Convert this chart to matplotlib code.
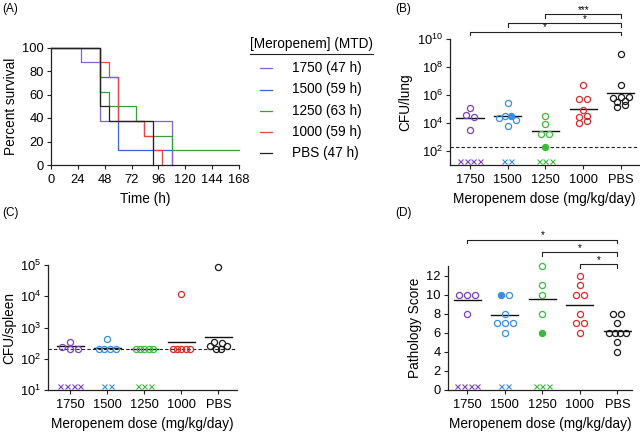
import numpy as np
import matplotlib
matplotlib.use("Agg")
import matplotlib.pyplot as plt
from matplotlib.lines import Line2D
from matplotlib.ticker import NullLocator, FuncFormatter

plt.rcParams["font.family"] = ["Liberation Sans", "DejaVu Sans"]
plt.rcParams["mathtext.fontset"] = "custom"
plt.rcParams["mathtext.rm"] = "Liberation Sans"
plt.rcParams["mathtext.it"] = "Liberation Sans"

# ---------------- data ----------------
groups = ["1750", "1500", "1250", "1000", "PBS"]
legend_labels = ["1750 (47 h)", "1500 (59 h)", "1250 (63 h)", "1000 (59 h)", "PBS (47 h)"]

# Kaplan-Meier steps (time h, percent survival)
surv_1750_t = [0, 27, 44, 108]
surv_1750_s = [100, 87.5, 37.5, 0]
surv_1500_t = [0, 44, 59.5, 108]
surv_1500_s = [100, 75, 12.5, 0]
surv_1250_t = [0, 44, 52, 76, 83.5, 108, 168]
surv_1250_s = [100, 62.5, 50, 37.5, 25, 12.5, 12.5]
surv_1000_t = [0, 44, 52, 59.5, 83.5, 91.5, 99.5]
surv_1000_s = [100, 87.5, 75, 37.5, 25, 12.5, 0]
surv_pbs_t = [0, 44, 52, 91.5]
surv_pbs_s = [100, 50, 37.5, 0]

# CFU/lung (listed left to right inside each row), filled = open/closed symbol
lung_vals = [
    [3.5e4, 2.7e4, 1.1e5, 3.4e3],
    [2.2e4, 3.0e4, 3.2e4, 1.7e4, 2.9e5, 5.8e3],
    [1.7e3, 1.7e3, 8.5e3, 3.4e4, 2.0e2],
    [1.0e4, 1.3e4, 2.7e4, 3.0e4, 9.1e4, 4.9e5, 4.9e5, 5.5e6],
    [6.5e5, 7.2e5, 7.2e5, 3.2e5, 3.5e5, 1.5e5, 1.8e5, 5.1e6, 8.5e8],
]
lung_filled = [
    [0, 0, 0, 0],
    [0, 0, 1, 0, 0, 0],
    [0, 0, 0, 0, 1],
    [0, 0, 0, 0, 0, 0, 0, 0],
    [0, 0, 0, 0, 0, 0, 0, 0, 0],
]
lung_mean = [2.45e4, 3.2e4, 2.7e3, 9.5e4, 1.4e6]

# CFU/spleen
spleen_vals = [
    [235, 200, 200, 340],
    [200, 200, 200, 200, 440],
    [200, 200, 200, 200, 200],
    [200, 200, 200, 200, 200, 12000],
    [355, 265, 205, 205, 265, 330, 87000],
]
spleen_mean = [250, 225, 200, 340, 510]

# Pathology score
path_vals = [
    [10, 10, 10, 8],
    [10, 10, 8, 7, 7, 7, 6],
    [13, 11, 10, 8, 6],
    [12, 11, 10, 10, 8, 7, 7, 6],
    [8, 8, 7, 6, 6, 6, 6, 5, 4],
]
path_filled = [
    [0, 0, 0, 0],
    [1, 0, 0, 0, 0, 0, 0],
    [0, 0, 0, 0, 1],
    [0, 0, 0, 0, 0, 0, 0, 0],
    [0, 0, 0, 0, 0, 0, 0, 0, 0],
]
path_mean = [9.5, 7.9, 9.6, 8.9, 6.2]

# mice that died before sampling (shown as x)
n_dead = [4, 2, 3, 0, 0]
lod = 200

line_cols = ["#7f62d9", "#3e5fe0", "#3d9c3d", "#e04848", "#222222"]
dot_cols = ["#7a40c6", "#3a8de0", "#3dba3d", "#d42c2c", "#1a1a1a"]

TICK_FS = 9.3
LAB_FS = 9.8

W, H = 640, 432
fig = plt.figure(figsize=(6.4, 4.32), dpi=100)


def box(l, t, r, b):
    return [l / W, 1 - b / H, (r - l) / W, (b - t) / H]


def style(ax):
    for s in ["top", "right"]:
        ax.spines[s].set_visible(False)
    for s in ["left", "bottom"]:
        ax.spines[s].set_linewidth(0.9)
        ax.spines[s].set_color("#222222")
    ax.tick_params(direction="out", length=3, width=0.8, labelsize=TICK_FS,
                   color="#222222", pad=2)
    ax.tick_params(axis="x", pad=3.5)


def swarm(ax, pos, vals, step_px=8.0, max_px=17.0, row_px=4.0):
    vals = np.asarray(vals, dtype=float)
    tr = ax.transData
    yp = tr.transform(np.column_stack([np.full(len(vals), pos), vals]))[:, 1]
    order = np.argsort(yp, kind="stable")
    rows = []
    for i in order:
        if rows and yp[i] - yp[rows[-1][0]] < row_px:
            rows[-1].append(i)
        else:
            rows.append([i])
    ppu = tr.transform((1, 1))[0] - tr.transform((0, 1))[0]
    off = np.zeros(len(vals))
    for r in rows:
        r = sorted(r)
        n = len(r)
        s = step_px if n < 2 else min(step_px, max_px / (n - 1))
        for k, i in enumerate(r):
            off[i] = (k - (n - 1) / 2) * s
    return pos + off / ppu


def bracket(ax, a, b, y, label, lx=None):
    tr = ax.get_xaxis_transform()
    ax.plot([a, a, b, b], [y - 0.03, y, y, y - 0.03], color="#222222", lw=0.8,
            transform=tr, clip_on=False)
    if lx is None:
        lx = (a + b) / 2
    ax.text(lx, y - 0.005, label, ha="center", va="bottom", fontsize=7,
            transform=tr)


def dot_panel(ax, vals, means, filled, dead_y, halfw=0.36):
    for i, v in enumerate(vals):
        xs = swarm(ax, i, v)
        fl = filled[i] if filled is not None else [0] * len(v)
        for x, y, f in zip(xs, v, fl):
            ax.plot(x, y, "o", ms=4.4, mew=0.9, mec=dot_cols[i],
                    mfc=dot_cols[i] if f else "none", clip_on=False, zorder=3)
        ax.plot([i - halfw, i + halfw], [means[i], means[i]], color="#111111",
                lw=1.0, zorder=2)
        if n_dead[i]:
            ys = [dead_y] * n_dead[i]
            xs = swarm(ax, i, ys, step_px=6.7, max_px=40)
            ax.plot(xs, ys, "x", ms=3.6, mew=0.8, color=dot_cols[i], clip_on=False)
    ax.set_xticks(range(len(groups)))
    ax.set_xticklabels(groups)
    ax.set_xlabel("Meropenem dose (mg/kg/day)", fontsize=LAB_FS, labelpad=4)


# ---------------- (A) survival ----------------
axA = fig.add_axes(box(51, 47.5, 239, 165))
style(axA)
surv = [(surv_1500_t, surv_1500_s, 1), (surv_1750_t, surv_1750_s, 0),
        (surv_1250_t, surv_1250_s, 2), (surv_1000_t, surv_1000_s, 3),
        (surv_pbs_t, surv_pbs_s, 4)]
for t, s, ci in surv:
    axA.step(t, s, where="post", color=line_cols[ci], lw=0.9, clip_on=False)
axA.set_xlim(0, 168)
axA.set_ylim(0, 100)
axA.set_xticks(np.arange(0, 169, 24))
axA.set_yticks(np.arange(0, 101, 20))
axA.set_xlabel("Time (h)", fontsize=LAB_FS, labelpad=4)
axA.set_ylabel("Percent survival", fontsize=LAB_FS, labelpad=3)

# legend drawn by hand
fig.text(250.5 / W, 1 - 44 / H, "[Meropenem] (MTD)", fontsize=LAB_FS, va="center")
fig.add_artist(Line2D([250 / W, 373 / W], [1 - 54 / H, 1 - 54 / H], color="#222222",
                      lw=0.8, transform=fig.transFigure))
for i, lab in enumerate(legend_labels):
    yy = 1 - (68.3 + 21.2 * i) / H
    fig.add_artist(Line2D([260 / W, 272 / W], [yy, yy], color=line_cols[i], lw=0.9,
                          transform=fig.transFigure))
    fig.text(292 / W, yy, lab, fontsize=LAB_FS, va="center")

# ---------------- (B) lung ----------------
axB = fig.add_axes(box(450, 39, 639, 165))
style(axB)
axB.set_yscale("log")
axB.set_ylim(1e1, 1e10)
axB.set_xlim(-0.53, 4.48)
axB.set_yticks([1e2, 1e4, 1e6, 1e8, 1e10])
axB.yaxis.set_minor_locator(NullLocator())
axB.yaxis.set_major_formatter(FuncFormatter(lambda v, p: "$10^{%d}$" % round(np.log10(v))))
axB.axhline(lod, color="#222222", lw=0.8, ls=(0, (3, 2)))
dot_panel(axB, lung_vals, lung_mean, lung_filled, 20)
axB.set_ylabel("CFU/lung", fontsize=LAB_FS, labelpad=3)
bracket(axB, 2, 4, 1.198, "***")
bracket(axB, 1, 4, 1.125, "*", lx=3.03)
bracket(axB, 0, 4, 1.058, "*", lx=1.97)

# ---------------- (C) spleen ----------------
axC = fig.add_axes(box(48.3, 265, 237.3, 390))
style(axC)
axC.set_yscale("log")
axC.set_ylim(1e1, 1e5)
axC.set_xlim(-0.59, 4.51)
axC.set_yticks([1e1, 1e2, 1e3, 1e4, 1e5])
axC.yaxis.set_minor_locator(NullLocator())
axC.yaxis.set_major_formatter(FuncFormatter(lambda v, p: "$10^{%d}$" % round(np.log10(v))))
axC.axhline(lod, color="#222222", lw=0.8, ls=(0, (3, 2)))
dot_panel(axC, spleen_vals, spleen_mean, None, 13.7)
axC.set_ylabel("CFU/spleen", fontsize=LAB_FS, labelpad=3)

# ---------------- (D) pathology ----------------
axD = fig.add_axes(box(447.7, 266.4, 632, 390))
style(axD)
axD.set_ylim(0, 13)
axD.set_xlim(-0.52, 4.39)
axD.set_yticks(np.arange(0, 13, 2))
dot_panel(axD, path_vals, path_mean, path_filled, 0.4)
axD.set_ylabel("Pathology Score", fontsize=LAB_FS, labelpad=3)
bracket(axD, 0, 4, 1.217, "*")
bracket(axD, 2, 4, 1.116, "*")
bracket(axD, 3, 4, 1.017, "*")

for lab, x, y in [("(A)", 2, 3), ("(B)", 395, 3), ("(C)", 2, 207), ("(D)", 395, 207)]:
    fig.text(x / W, 1 - y / H, lab, fontsize=8.5, va="top", ha="left")

fig.savefig("out.png", dpi=100, facecolor="white")
